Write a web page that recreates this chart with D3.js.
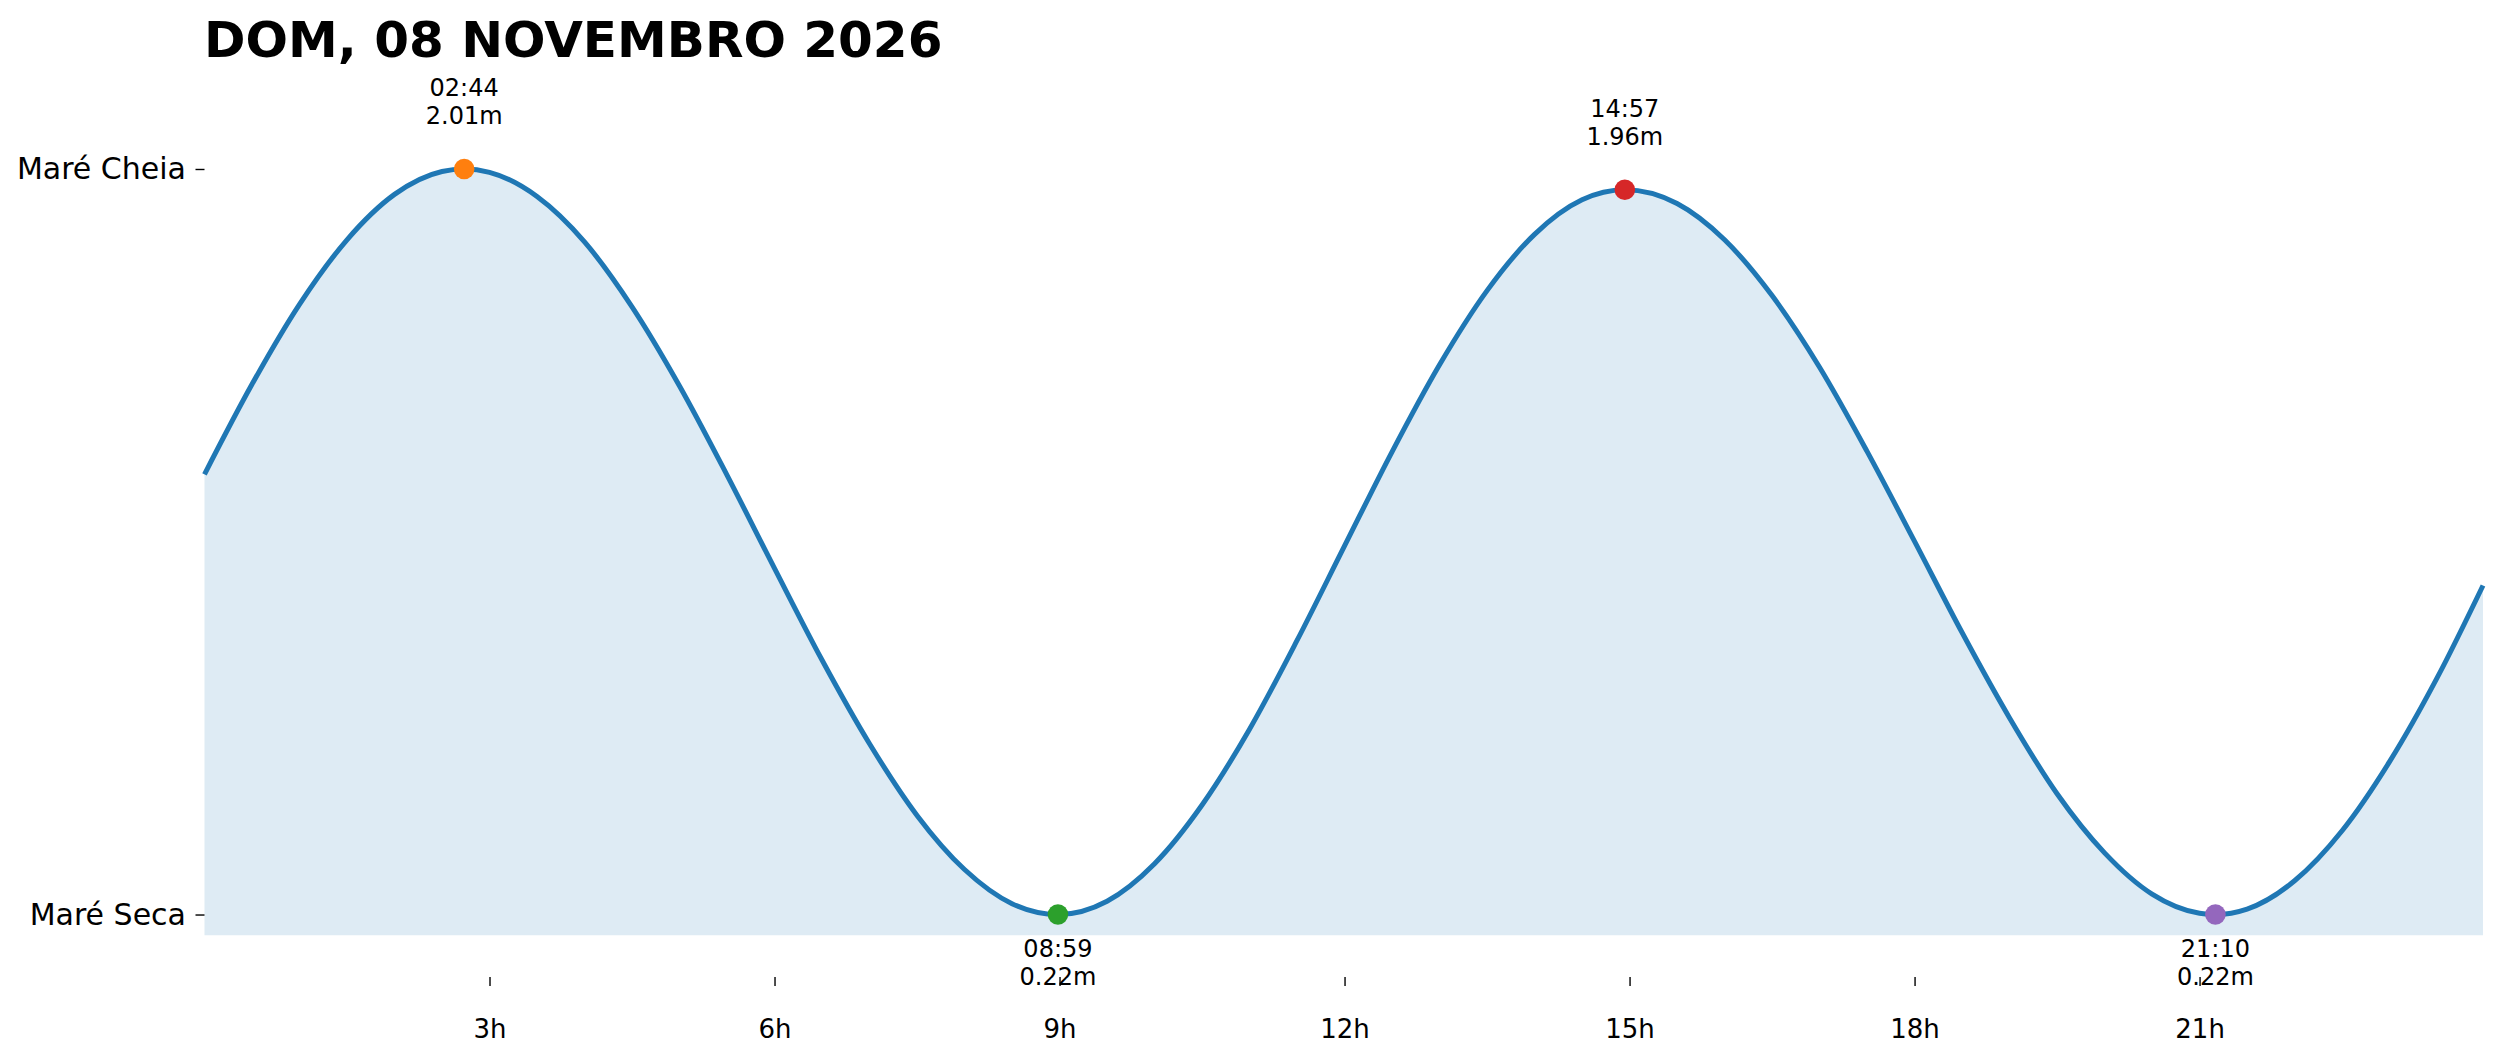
<!DOCTYPE html>
<html>
<head>
<meta charset="utf-8">
<script src="https://cdn.jsdelivr.net/npm/d3@7/dist/d3.min.js"></script>
<style>
  html, body { margin: 0; padding: 0; background: #ffffff; }
  svg { display: block; }
</style>
</head>
<body>
<svg id="chart" width="2501" height="1062"></svg>
<script>
// ---- Data ----
const titleText = "DOM, 08 NOVEMBRO 2026";

const sampleTimes   = ["00:00","00:30","01:00","01:30","02:00","02:30","03:00","03:30",
                       "04:00","04:30","05:00","05:30","06:00","06:30","07:00","07:30",
                       "08:00","08:30","09:30","10:00","10:30","11:00","11:30","12:00",
                       "12:30","13:00","13:30","14:00","14:30","15:30","16:00","16:30",
                       "17:00","17:30","18:00","18:30","19:00","19:30","20:00","20:30",
                       "21:00","21:30","22:00","22:30","23:00","23:30","23:59"];
const sampleHeights = [1.277, 1.493, 1.685, 1.840, 1.949, 2.004, 2.002, 1.944,
                       1.835, 1.679, 1.489, 1.275, 1.051, 0.831, 0.630, 0.458,
                       0.328, 0.246, 0.252, 0.342, 0.483, 0.665, 0.878, 1.105,
                       1.331, 1.540, 1.718, 1.853, 1.936, 1.927, 1.840, 1.706,
                       1.534, 1.332, 1.116, 0.897, 0.692, 0.510, 0.368, 0.269,
                       0.223, 0.233, 0.301, 0.421, 0.587, 0.788, 1.010];

const extremeTimes   = ["02:44", "08:59", "14:57", "21:10"];
const extremeHeights = [2.01, 0.22, 1.96, 0.22];
const extremeKinds   = ["high", "low", "high", "low"];

const fillBase = 0.17;               // lower edge of the shaded area
const yDomain  = [0.07, 2.10];

const yTickValues = [0.22, 2.01];
const yTickLabels = ["Maré Seca", "Maré Cheia"];

const xTickHours  = [3, 6, 9, 12, 15, 18, 21];
const xTickLabels = ["3h", "6h", "9h", "12h", "15h", "18h", "21h"];

// ---- Styles ----
const lineColor = "#1f77b4";
const dotColors = ["#ff7f0e", "#2ca02c", "#d62728", "#9467bd"];
const FONT = "'DejaVu Sans', sans-serif";

// ---- Helpers ----
const toHours = s => { const [h, m] = s.split(":").map(Number); return h + m / 60; };

const points = sampleTimes.map((t, i) => ({ t: toHours(t), v: sampleHeights[i] }))
  .concat(extremeTimes.map((t, i) => ({ t: toHours(t), v: extremeHeights[i] })))
  .sort((a, b) => a.t - b.t);

const extremes = extremeTimes.map((t, i) => ({
  label: t, t: toHours(t), v: extremeHeights[i], kind: extremeKinds[i], color: dotColors[i]
}));

// ---- Scales ----
const svg = d3.select("#chart");
svg.append("rect").attr("width", 2501).attr("height", 1062).attr("fill", "#ffffff");

const x = d3.scaleLinear()
  .domain(d3.extent(points, d => d.t))
  .range([204.5, 2483]);
const y = d3.scaleLinear().domain(yDomain).range([977, 131.5]);

const curve = d3.curveMonotoneX;

// ---- Area + line ----
const area = d3.area()
  .x(d => x(d.t)).y0(y(fillBase)).y1(d => y(d.v))
  .curve(curve);
svg.append("path").datum(points)
  .attr("d", area)
  .attr("fill", lineColor).attr("fill-opacity", 0.15);

const line = d3.line().x(d => x(d.t)).y(d => y(d.v)).curve(curve);
svg.append("path").datum(points)
  .attr("d", line)
  .attr("fill", "none").attr("stroke", lineColor)
  .attr("stroke-width", 5).attr("stroke-linejoin", "round").attr("stroke-linecap", "butt");

// ---- Extremes: dots + annotations ----
svg.append("g").selectAll("circle").data(extremes).join("circle")
  .attr("cx", d => x(d.t)).attr("cy", d => y(d.v))
  .attr("r", 10.3).attr("fill", d => d.color);

const ann = svg.append("g")
  .attr("font-family", FONT).attr("font-size", 24).attr("fill", "#000")
  .attr("text-anchor", "middle");
extremes.forEach(d => {
  const cx = x(d.t), cy = y(d.v);
  const b1 = d.kind === "high" ? cy - 73 : cy + 42;
  const b2 = d.kind === "high" ? cy - 45 : cy + 70;
  ann.append("text").attr("x", cx).attr("y", b1).text(d.label);
  ann.append("text").attr("x", cx).attr("y", b2).text(d.v.toFixed(2) + "m");
});

// ---- Axes ----
const yAxis = d3.axisLeft(y)
  .tickValues(yTickValues)
  .tickFormat((d, i) => yTickLabels[i])
  .tickSize(9).tickPadding(9.5);
const gy = svg.append("g").attr("transform", "translate(204.5,0)").call(yAxis);
gy.select(".domain").remove();
gy.selectAll(".tick line").attr("stroke", "#000").attr("stroke-width", 1.4);
gy.selectAll(".tick text").attr("font-family", FONT).attr("font-size", 30).attr("fill", "#000");

const xAxis = d3.axisBottom(x)
  .tickValues(xTickHours)
  .tickFormat((d, i) => xTickLabels[i])
  .tickSize(9).tickPadding(33.5);
const gx = svg.append("g").attr("transform", "translate(0,977)").call(xAxis);
gx.select(".domain").remove();
gx.selectAll(".tick line").attr("stroke", "#000").attr("stroke-width", 1.4);
gx.selectAll(".tick text").attr("font-family", FONT).attr("font-size", 26).attr("fill", "#000");

// ---- Title ----
svg.append("text")
  .attr("x", 204).attr("y", 57)
  .attr("font-family", FONT).attr("font-weight", "bold").attr("font-size", 50)
  .attr("fill", "#000")
  .text(titleText);
</script>
</body>
</html>
